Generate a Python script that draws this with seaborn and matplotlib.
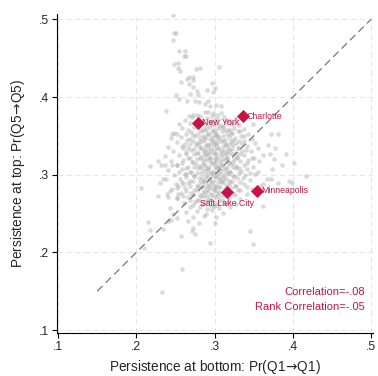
import matplotlib
matplotlib.use("Agg")
import matplotlib.pyplot as plt
import seaborn as sns
import pandas as pd

# Commuting-zone persistence rates: (bottom Q1->Q1, top Q5->Q5)
zone_points = [
    # upper tail
    (0.247, 0.505), (0.248, 0.482), (0.251, 0.482), (0.247, 0.473), (0.255, 0.459),
    (0.262, 0.459), (0.261, 0.453), (0.264, 0.453), (0.248, 0.442), (0.253, 0.444),
    (0.253, 0.437), (0.256, 0.434), (0.276, 0.436), (0.281, 0.437), (0.306, 0.439),
    (0.257, 0.419), (0.265, 0.423), (0.267, 0.426), (0.267, 0.417), (0.273, 0.426),
    (0.273, 0.422), (0.273, 0.413), (0.297, 0.418), (0.269, 0.404), (0.278, 0.408),
    (0.279, 0.403), (0.290, 0.409), (0.301, 0.412), (0.298, 0.407), (0.251, 0.402),
    (0.255, 0.398), (0.265, 0.395), (0.275, 0.395), (0.280, 0.394), (0.288, 0.391),
    (0.292, 0.395), (0.294, 0.388), (0.302, 0.390), (0.308, 0.388), (0.238, 0.382),
    (0.288, 0.381), (0.292, 0.381), (0.298, 0.380), (0.303, 0.377), (0.308, 0.379),
    (0.267, 0.376), (0.273, 0.377), (0.278, 0.377), (0.281, 0.375), (0.297, 0.375),
    # core
    (0.262, 0.371), (0.271, 0.374), (0.285, 0.370), (0.290, 0.373), (0.296, 0.369),
    (0.305, 0.372), (0.312, 0.374), (0.318, 0.370), (0.327, 0.372),
    (0.255, 0.365), (0.268, 0.367), (0.289, 0.364), (0.294, 0.368), (0.301, 0.365),
    (0.307, 0.363), (0.314, 0.367), (0.321, 0.366), (0.331, 0.364),
    (0.259, 0.360), (0.266, 0.358), (0.274, 0.361), (0.286, 0.359), (0.293, 0.362),
    (0.298, 0.358), (0.304, 0.360), (0.311, 0.361), (0.317, 0.357), (0.325, 0.360),
    (0.338, 0.359),
    (0.248, 0.354), (0.263, 0.352), (0.270, 0.355), (0.279, 0.353), (0.284, 0.356),
    (0.291, 0.352), (0.297, 0.355), (0.302, 0.353), (0.309, 0.356), (0.316, 0.352),
    (0.322, 0.354), (0.330, 0.356), (0.343, 0.353),
    (0.244, 0.347), (0.257, 0.349), (0.268, 0.346), (0.275, 0.350), (0.281, 0.347),
    (0.288, 0.349), (0.294, 0.346), (0.300, 0.350), (0.306, 0.348), (0.313, 0.345),
    (0.318, 0.349), (0.326, 0.347), (0.334, 0.350), (0.348, 0.346),
    (0.252, 0.342), (0.262, 0.340), (0.272, 0.343), (0.278, 0.341), (0.285, 0.344),
    (0.290, 0.340), (0.297, 0.343), (0.303, 0.341), (0.308, 0.344), (0.315, 0.340),
    (0.321, 0.343), (0.328, 0.341), (0.337, 0.344), (0.352, 0.341),
    (0.240, 0.336), (0.258, 0.337), (0.266, 0.334), (0.276, 0.338), (0.282, 0.335),
    (0.288, 0.337), (0.293, 0.334), (0.299, 0.338), (0.305, 0.335), (0.311, 0.337),
    (0.317, 0.334), (0.324, 0.338), (0.331, 0.335), (0.341, 0.337), (0.356, 0.335),
    (0.247, 0.330), (0.263, 0.329), (0.270, 0.332), (0.279, 0.328), (0.286, 0.331),
    (0.291, 0.329), (0.296, 0.332), (0.302, 0.328), (0.308, 0.331), (0.314, 0.329),
    (0.319, 0.332), (0.327, 0.328), (0.335, 0.331), (0.346, 0.330),
    (0.236, 0.324), (0.255, 0.325), (0.268, 0.322), (0.274, 0.326), (0.283, 0.323),
    (0.289, 0.325), (0.294, 0.322), (0.300, 0.326), (0.305, 0.323), (0.311, 0.325),
    (0.316, 0.322), (0.323, 0.326), (0.329, 0.323), (0.338, 0.325), (0.351, 0.322),
    (0.362, 0.325),
    (0.244, 0.318), (0.260, 0.319), (0.271, 0.316), (0.278, 0.320), (0.285, 0.317),
    (0.291, 0.319), (0.297, 0.316), (0.302, 0.320), (0.307, 0.317), (0.313, 0.319),
    (0.319, 0.316), (0.325, 0.320), (0.333, 0.317), (0.343, 0.319), (0.357, 0.318),
    (0.231, 0.312), (0.252, 0.313), (0.266, 0.310), (0.276, 0.314), (0.282, 0.311),
    (0.288, 0.313), (0.293, 0.310), (0.299, 0.314), (0.305, 0.311), (0.310, 0.313),
    (0.316, 0.310), (0.321, 0.314), (0.328, 0.311), (0.337, 0.313), (0.349, 0.310),
    (0.241, 0.306), (0.258, 0.307), (0.270, 0.304), (0.279, 0.308), (0.286, 0.305),
    (0.292, 0.307), (0.297, 0.304), (0.303, 0.308), (0.308, 0.305), (0.314, 0.307),
    (0.320, 0.304), (0.327, 0.308), (0.334, 0.305), (0.342, 0.307), (0.355, 0.304),
    (0.248, 0.300), (0.263, 0.301), (0.274, 0.298), (0.283, 0.302), (0.289, 0.299),
    (0.295, 0.301), (0.300, 0.298), (0.306, 0.302), (0.311, 0.299), (0.317, 0.301),
    (0.323, 0.298), (0.331, 0.302), (0.339, 0.299), (0.352, 0.301),
    (0.238, 0.294), (0.256, 0.295), (0.269, 0.292), (0.280, 0.296), (0.287, 0.293),
    (0.293, 0.295), (0.298, 0.292), (0.304, 0.296), (0.309, 0.293), (0.315, 0.295),
    (0.322, 0.292), (0.329, 0.296), (0.345, 0.293),
    (0.251, 0.288), (0.266, 0.289), (0.277, 0.286), (0.285, 0.290), (0.291, 0.287),
    (0.297, 0.289), (0.302, 0.286), (0.308, 0.290), (0.314, 0.287), (0.320, 0.289),
    (0.327, 0.286), (0.338, 0.288),
    (0.246, 0.282), (0.262, 0.283), (0.274, 0.280), (0.283, 0.284), (0.290, 0.281),
    (0.296, 0.283), (0.301, 0.280), (0.307, 0.284), (0.313, 0.281), (0.321, 0.283),
    (0.333, 0.280), (0.348, 0.282),
    (0.257, 0.276), (0.270, 0.277), (0.281, 0.274), (0.288, 0.278), (0.295, 0.275),
    (0.303, 0.277), (0.310, 0.274), (0.324, 0.277), (0.341, 0.275),
    (0.252, 0.270), (0.266, 0.271), (0.278, 0.268), (0.286, 0.272), (0.293, 0.269),
    (0.300, 0.271), (0.309, 0.268), (0.318, 0.271), (0.333, 0.269),
    (0.261, 0.264), (0.275, 0.265), (0.284, 0.262), (0.292, 0.266), (0.301, 0.263),
    (0.312, 0.265), (0.327, 0.262),
    (0.268, 0.258), (0.281, 0.259), (0.290, 0.256), (0.299, 0.260), (0.306, 0.257),
    (0.320, 0.259),
    (0.263, 0.252), (0.277, 0.253), (0.289, 0.250), (0.297, 0.254), (0.311, 0.251),
    (0.272, 0.246), (0.286, 0.247), (0.302, 0.245),
    # dense centre
    (0.279, 0.368), (0.300, 0.370), (0.315, 0.369),
    (0.277, 0.362), (0.297, 0.364), (0.310, 0.363), (0.324, 0.365),
    (0.281, 0.357), (0.289, 0.358), (0.300, 0.356), (0.313, 0.358), (0.320, 0.357),
    (0.333, 0.356),
    (0.272, 0.351), (0.285, 0.350), (0.291, 0.352), (0.297, 0.349), (0.303, 0.351),
    (0.311, 0.350), (0.321, 0.352), (0.338, 0.350),
    (0.265, 0.345), (0.282, 0.344), (0.288, 0.346), (0.299, 0.344), (0.305, 0.346),
    (0.311, 0.344), (0.324, 0.345), (0.331, 0.344),
    (0.269, 0.339), (0.280, 0.340), (0.291, 0.338), (0.296, 0.340), (0.302, 0.339),
    (0.314, 0.338), (0.320, 0.340), (0.335, 0.339),
    (0.274, 0.333), (0.283, 0.334), (0.288, 0.332), (0.299, 0.333), (0.305, 0.334),
    (0.311, 0.332), (0.322, 0.333), (0.330, 0.334), (0.340, 0.332),
    (0.263, 0.327), (0.278, 0.328), (0.286, 0.326), (0.292, 0.327), (0.297, 0.328),
    (0.308, 0.326), (0.314, 0.327), (0.320, 0.328), (0.333, 0.327),
    (0.266, 0.321), (0.281, 0.322), (0.288, 0.320), (0.294, 0.321), (0.300, 0.322),
    (0.310, 0.320), (0.316, 0.321), (0.329, 0.322), (0.348, 0.321),
    (0.259, 0.315), (0.273, 0.316), (0.285, 0.314), (0.296, 0.315), (0.302, 0.316),
    (0.308, 0.314), (0.318, 0.315), (0.324, 0.316), (0.341, 0.315),
    (0.263, 0.309), (0.274, 0.310), (0.283, 0.308), (0.289, 0.309), (0.300, 0.310),
    (0.306, 0.308), (0.311, 0.309), (0.323, 0.310), (0.331, 0.308),
    (0.255, 0.303), (0.268, 0.304), (0.278, 0.302), (0.292, 0.303), (0.298, 0.304),
    (0.303, 0.302), (0.314, 0.303), (0.320, 0.304), (0.345, 0.302),
    (0.263, 0.297), (0.274, 0.298), (0.284, 0.296), (0.290, 0.297), (0.301, 0.298),
    (0.307, 0.296), (0.312, 0.297), (0.325, 0.298), (0.336, 0.296),
    (0.259, 0.291), (0.272, 0.292), (0.282, 0.290), (0.288, 0.291), (0.294, 0.292),
    (0.305, 0.290), (0.311, 0.291), (0.318, 0.292), (0.332, 0.290),
    (0.269, 0.285), (0.279, 0.286), (0.287, 0.284), (0.293, 0.285), (0.299, 0.286),
    (0.305, 0.284), (0.317, 0.285), (0.326, 0.286), (0.341, 0.284),
    (0.264, 0.279), (0.277, 0.280), (0.285, 0.278), (0.292, 0.279), (0.299, 0.280),
    (0.306, 0.278), (0.316, 0.279), (0.330, 0.280),
    (0.260, 0.273), (0.273, 0.274), (0.283, 0.272), (0.290, 0.273), (0.297, 0.274),
    (0.305, 0.272), (0.313, 0.273), (0.326, 0.274),
    (0.269, 0.267), (0.280, 0.268), (0.288, 0.266), (0.296, 0.267), (0.306, 0.268),
    (0.319, 0.266),
    (0.273, 0.261), (0.286, 0.262), (0.295, 0.260), (0.303, 0.261), (0.314, 0.262),
    # right side
    (0.349, 0.365), (0.372, 0.353), (0.381, 0.352), (0.368, 0.338), (0.377, 0.335),
    (0.371, 0.326), (0.391, 0.326), (0.376, 0.320), (0.386, 0.312), (0.402, 0.315),
    (0.373, 0.307), (0.417, 0.298), (0.372, 0.294), (0.367, 0.294), (0.395, 0.292),
    (0.399, 0.289), (0.362, 0.288), (0.362, 0.260), (0.358, 0.285), (0.381, 0.289),
    # left side
    (0.246, 0.352), (0.252, 0.352), (0.260, 0.334), (0.228, 0.317), (0.237, 0.313),
    (0.246, 0.313), (0.252, 0.313), (0.218, 0.311), (0.234, 0.294), (0.230, 0.289),
    (0.262, 0.301), (0.260, 0.288), (0.252, 0.283), (0.243, 0.279), (0.206, 0.283),
    (0.228, 0.273), (0.239, 0.275), (0.241, 0.271), (0.252, 0.270), (0.253, 0.275),
    (0.253, 0.285), (0.215, 0.239), (0.218, 0.229), (0.234, 0.230), (0.241, 0.241),
    (0.244, 0.242), (0.252, 0.244), (0.210, 0.206), (0.247, 0.250), (0.243, 0.257),
    (0.266, 0.241), (0.257, 0.221),
    # lower tail
    (0.345, 0.227), (0.349, 0.211), (0.294, 0.212), (0.301, 0.238), (0.280, 0.238),
    (0.273, 0.232), (0.271, 0.228), (0.275, 0.224), (0.258, 0.178), (0.233, 0.149),
]

cities = ["New York", "Charlotte", "Salt Lake City", "Minneapolis"]
city_bottom = [0.279, 0.336, 0.316, 0.354]
city_top = [0.367, 0.375, 0.278, 0.279]

ticks = [0.1, 0.2, 0.3, 0.4, 0.5]
tick_labels = [".1", ".2", ".3", ".4", ".5"]
corr_text = "Correlation=-.08"
rank_corr_text = "Rank Correlation=-.05"

sns.set_style("white")
plt.rcParams["font.family"] = ["Liberation Sans", "DejaVu Sans"]
plt.rcParams["mathtext.fontset"] = "dejavusans"

zones = pd.DataFrame(zone_points, columns=["bottom", "top"])
city_df = pd.DataFrame({"city": cities, "bottom": city_bottom, "top": city_top})

red = "#cc1144"

fig = plt.figure(figsize=(3.78, 3.76), dpi=100)
ax = fig.add_axes([0.151, 0.114, 0.836, 0.849])

for t in ticks:
    ax.axhline(t, color="#e6e6e6", lw=0.8, ls=(0, (5, 3)), zorder=0)
    ax.axvline(t, color="#e6e6e6", lw=0.8, ls=(0, (5, 3)), zorder=0)

sns.scatterplot(data=zones, x="bottom", y="top", ax=ax, s=9, color="#aaaaaa",
                alpha=0.42, edgecolor="#aaaaaa", linewidth=0.2, zorder=2)

ax.plot([0.15, 0.5], [0.15, 0.5], color="#777777", lw=0.9, ls=(0, (6, 3.5)), zorder=3)

sns.scatterplot(data=city_df, x="bottom", y="top", ax=ax, marker="D", s=38,
                color=red, edgecolor=red, linewidth=0.5, zorder=4)

for name, bx, ty in zip(cities, city_bottom, city_top):
    if name == "Salt Lake City":
        ax.annotate(name, (bx, ty), xytext=(0, -5), textcoords="offset points",
                    ha="center", va="top", fontsize=6.3, color=red, zorder=5)
    else:
        ax.annotate(name, (bx, ty), xytext=(3, 0), textcoords="offset points",
                    ha="left", va="center", fontsize=6.3, color=red, zorder=5)

ax.text(0.492, 0.149, corr_text, ha="right", va="center", fontsize=8.0, color=red)
ax.text(0.492, 0.130, rank_corr_text, ha="right", va="center", fontsize=8.0, color=red)

ax.set_xlim(0.0987, 0.5026)
ax.set_ylim(0.096, 0.507)
ax.set_xticks(ticks)
ax.set_xticklabels(tick_labels)
ax.set_yticks(ticks)
ax.set_yticklabels(tick_labels)
ax.tick_params(axis="both", direction="out", length=3.5, width=0.8, color="black",
               labelsize=8.8, pad=2, bottom=True, left=True)
for side in ["top", "right"]:
    ax.spines[side].set_visible(False)
for side in ["left", "bottom"]:
    ax.spines[side].set_color("black")
    ax.spines[side].set_linewidth(0.8)

ax.set_xlabel("Persistence at bottom: Pr(Q1$\\!\\rightarrow\\!$Q1)", fontsize=9.8, labelpad=4)
ax.set_ylabel("Persistence at top: Pr(Q5$\\!\\rightarrow\\!$Q5)", fontsize=9.8, labelpad=9)

fig.savefig("out.png", dpi=100)
